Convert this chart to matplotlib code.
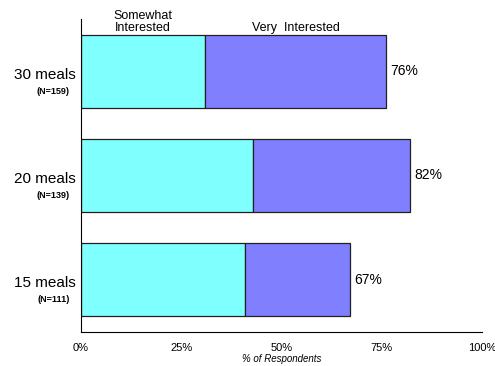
import matplotlib.pyplot as plt

plt.rcParams['font.family'] = ['Liberation Sans', 'DejaVu Sans']

## data
meals = ["15 meals", "20 meals", "30 meals"]
counts = ["(N=111)", "(N=139)", "(N=159)"]
somewhat = [41, 43, 31]
very = [26, 39, 45]
totals = [67, 82, 76]

ticks = [0, 25, 50, 75, 100]
tick_labels = ["0%", "25%", "50%", "75%", "100%"]

fig = plt.figure(figsize=(4.95, 3.66), dpi=100)
ax = fig.add_axes([0.1636, 0.093, 0.8104, 0.855])

pos = range(len(meals))
ax.barh(pos, somewhat, height=0.7, color="#80FFFF", edgecolor="#202020", linewidth=0.9)
ax.barh(pos, very, left=somewhat, height=0.7, color="#8080FF", edgecolor="#202020", linewidth=0.9)

for i in pos:
    ax.text(totals[i] + 1.2, i, "%d%%" % totals[i], va="center", ha="left", fontsize=10)
    ax.text(-1.2, i - 0.035, meals[i], va="center", ha="right", fontsize=11)
    ax.text(-2.8, i - 0.19, counts[i], va="center", ha="right", fontsize=6.5, fontweight="bold")

## column headers above top bar
top = len(meals) - 1
ax.text(somewhat[top] / 2, top + 0.36, "Somewhat\nInterested", ha="center", va="bottom",
        fontsize=9, linespacing=1.0)
ax.text(somewhat[top] + very[top] / 2, top + 0.36, "Very  Interested", ha="center", va="bottom",
        fontsize=9)

ax.set_xlim(0, 100)
ax.set_ylim(-0.5, 2.5)
ax.set_xticks(ticks)
ax.set_xticklabels(tick_labels, fontsize=8)
ax.set_yticks([])
ax.tick_params(axis="x", length=0, pad=8)
ax.set_xlabel("% of Respondents", fontsize=7, style="italic", labelpad=1)
ax.spines["top"].set_visible(False)
ax.spines["right"].set_visible(False)

plt.savefig("out.png", dpi=100)
